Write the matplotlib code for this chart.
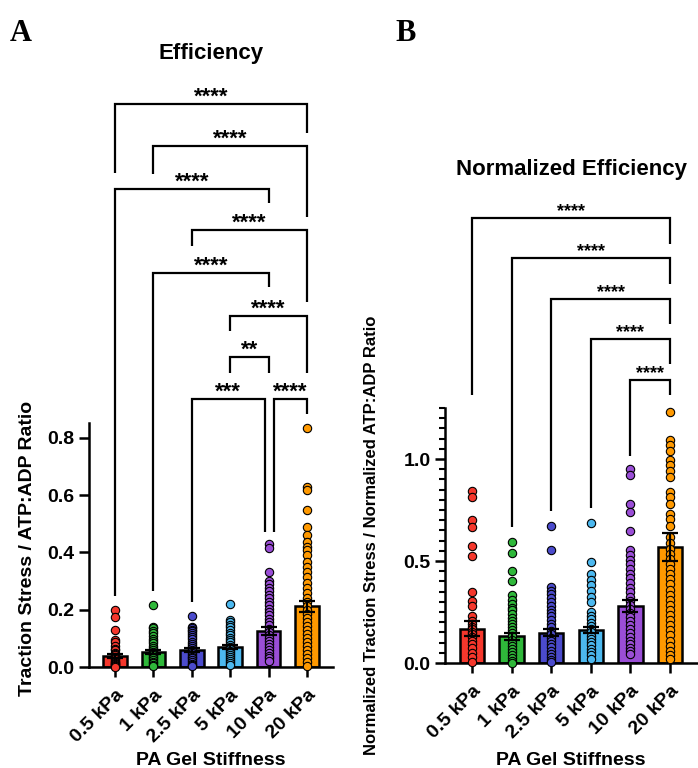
import matplotlib.pyplot as plt
from matplotlib.ticker import FormatStrFormatter

plt.rcParams['font.family'] = ['Liberation Sans', 'DejaVu Sans']
plt.rcParams['font.weight'] = 'bold'

labels = ['0.5 kPa', '1 kPa', '2.5 kPa', '5 kPa', '10 kPa', '20 kPa']
colors = ['#f5372c', '#2fb83a', '#4b4bcc', '#4cb8ef', '#9a4ed6', '#ff9900']

# panel A: traction stress / ATP:ADP ratio, single cells
red_a = [0.199, 0.174, 0.128, 0.095, 0.088, 0.072, 0.064, 0.058, 0.05, 0.046, 0.041, 0.036,
         0.031, 0.027, 0.022, 0.018, 0.015, 0.012, 0.009, 0.006, 0.004, 0.002, 0.001]
green_a = [0.218, 0.141, 0.136, 0.126, 0.118, 0.108, 0.099, 0.092, 0.083, 0.073, 0.066,
           0.058, 0.052, 0.047, 0.041, 0.036, 0.03, 0.025, 0.019, 0.013, 0.008, 0.003]
blue_a = [0.178, 0.141, 0.136, 0.13, 0.124, 0.117, 0.11, 0.103, 0.096, 0.089, 0.082, 0.075,
          0.068, 0.061, 0.055, 0.048, 0.042, 0.036, 0.03, 0.024, 0.018, 0.012, 0.007, 0.002]
lblue_a = [0.219, 0.165, 0.156, 0.147, 0.138, 0.129, 0.12, 0.111, 0.102, 0.094, 0.086,
           0.078, 0.07, 0.062, 0.055, 0.048, 0.041, 0.034, 0.027, 0.02, 0.013, 0.006]
purple_a = [0.429, 0.415, 0.333, 0.301, 0.288, 0.276, 0.264, 0.252, 0.24, 0.228, 0.216,
            0.204, 0.192, 0.18, 0.168, 0.156, 0.145, 0.134, 0.123, 0.112, 0.101, 0.09,
            0.08, 0.07, 0.06, 0.05, 0.04, 0.03, 0.022]
orange_a = [0.833, 0.627, 0.619, 0.548, 0.487, 0.46, 0.437, 0.42, 0.408, 0.391, 0.368, 0.35,
            0.333, 0.315, 0.293, 0.275, 0.257, 0.24, 0.228, 0.212, 0.198, 0.184, 0.17,
            0.156, 0.142, 0.128, 0.114, 0.1, 0.086, 0.072, 0.058, 0.044, 0.03, 0.016, 0.005]
mean_a = [0.038, 0.051, 0.060, 0.070, 0.124, 0.212]
sem_a = [0.006, 0.007, 0.006, 0.008, 0.014, 0.020]

# panel B: normalized values
red_b = [0.843, 0.812, 0.70, 0.665, 0.575, 0.526, 0.346, 0.305, 0.28, 0.228, 0.208, 0.19,
         0.178, 0.165, 0.154, 0.14, 0.129, 0.11, 0.095, 0.072, 0.05, 0.027, 0.003]
green_b = [0.592, 0.541, 0.452, 0.403, 0.333, 0.31, 0.29, 0.272, 0.258, 0.24, 0.222, 0.205,
           0.19, 0.175, 0.16, 0.145, 0.13, 0.115, 0.1, 0.085, 0.07, 0.055, 0.04, 0.025,
           0.01, 0.002]
blue_b = [0.673, 0.554, 0.371, 0.355, 0.34, 0.32, 0.3, 0.28, 0.262, 0.245, 0.228, 0.21,
          0.192, 0.175, 0.158, 0.14, 0.124, 0.108, 0.092, 0.076, 0.06, 0.045, 0.03, 0.015,
          0.004]
lblue_b = [0.685, 0.497, 0.435, 0.405, 0.38, 0.355, 0.325, 0.3, 0.25, 0.232, 0.215, 0.198,
           0.182, 0.166, 0.15, 0.134, 0.118, 0.102, 0.086, 0.07, 0.054, 0.038, 0.022]
purple_b = [0.949, 0.922, 0.779, 0.742, 0.649, 0.554, 0.528, 0.505, 0.483, 0.46, 0.438,
            0.415, 0.392, 0.37, 0.348, 0.326, 0.305, 0.285, 0.265, 0.245, 0.225, 0.205,
            0.185, 0.165, 0.146, 0.128, 0.11, 0.092, 0.075, 0.058, 0.042]
orange_b = [1.232, 1.093, 1.07, 1.04, 0.995, 0.97, 0.94, 0.913, 0.84, 0.815, 0.78, 0.73,
            0.705, 0.67, 0.62, 0.59, 0.56, 0.535, 0.51, 0.485, 0.46, 0.435, 0.41, 0.385,
            0.36, 0.335, 0.31, 0.285, 0.26, 0.235, 0.21, 0.185, 0.16, 0.135, 0.11, 0.085,
            0.06, 0.04, 0.02]
mean_b = [0.168, 0.132, 0.149, 0.160, 0.281, 0.569]
sem_b = [0.036, 0.017, 0.017, 0.015, 0.030, 0.070]

# significance brackets: group i, group j, bar height, left leg end, right leg end, stars
brackets_a = [(0, 5, 1.965, 1.724, 1.864, '****'),
              (1, 5, 1.818, 1.721, 1.571, '****'),
              (0, 4, 1.668, 0.248, 1.620, '****'),
              (2, 5, 1.525, 1.469, 1.274, '****'),
              (1, 4, 1.375, 0.265, 1.326, '****'),
              (3, 5, 1.225, 1.173, 1.026, '****'),
              (3, 4, 1.082, 1.026, 1.026, '**'),
              (2, 3.9, 0.935, 0.227, 0.471, '***'),
              (4.13, 5, 0.935, 0.471, 0.883, '****')]
brackets_b = [(0, 5, 2.181, 1.314, 2.054, '****'),
              (1, 5, 1.985, 0.667, 1.858, '****'),
              (2, 5, 1.784, 0.745, 1.662, '****'),
              (3, 5, 1.588, 0.760, 1.466, '****'),
              (4, 5, 1.387, 1.015, 1.314, '****')]


def draw_panel(ax, groups, means, sems, brackets, ytop, ymax, star_size):
    x = list(range(len(labels)))
    ax.bar(x, means, width=0.62, color=colors, edgecolor='black', linewidth=1.8, zorder=2)
    for i, vals in enumerate(groups):
        ax.plot([i] * len(vals), vals, 'o', ms=6, mfc=colors[i], mec='black', mew=0.8,
                zorder=3, clip_on=False)
    ax.errorbar(x, means, yerr=sems, fmt='none', ecolor='black', elinewidth=1.6,
                capsize=6, capthick=1.6, zorder=4)
    for i, j, y, yl, yr, txt in brackets:
        ax.plot([i, i, j, j], [yl, y, y, yr], color='black', lw=1.6, clip_on=False,
                solid_joinstyle='miter', solid_capstyle='butt')
        ax.annotate(txt, ((i + j) / 2, y), xytext=(0, 5), textcoords='offset points',
                    ha='center', va='center', fontsize=star_size, fontweight='bold')
    ax.set_xlim(-0.68, 5.68)
    ax.set_ylim(0, ymax)
    ax.spines['top'].set_visible(False)
    ax.spines['right'].set_visible(False)
    ax.spines['left'].set_bounds(0, ytop)
    ax.spines['left'].set_linewidth(1.8)
    ax.spines['bottom'].set_linewidth(1.8)
    ax.yaxis.set_major_formatter(FormatStrFormatter('%.1f'))
    ax.tick_params(width=1.8, length=7, labelsize=14)
    ax.tick_params(axis='x', labelsize=14, pad=7)
    ax.tick_params(which='minor', width=1.5, length=4)
    ax.set_xticks(x)
    ax.set_xticklabels(labels, rotation=45, ha='right', rotation_mode='anchor')


fig = plt.figure(figsize=(6.98, 7.68), dpi=100)

axA = fig.add_axes([89 / 698, 101 / 768, 244 / 698, 587 / 768])
draw_panel(axA, [red_a, green_a, blue_a, lblue_a, purple_a, orange_a], mean_a, sem_a,
           brackets_a, 0.85, 2.049, 16)
axA.set_yticks([0, 0.2, 0.4, 0.6, 0.8])

axB = fig.add_axes([445 / 698, 105 / 768, 252 / 698, 473 / 768])
draw_panel(axB, [red_b, green_b, blue_b, lblue_b, purple_b, orange_b], mean_b, sem_b,
           brackets_b, 1.25, 2.319, 13)
axB.set_yticks([0, 0.5, 1.0])
axB.set_yticks([t / 20 for t in range(1, 26) if t % 10], minor=True)

fig.text(211 / 698, 1 - 53 / 768, 'Efficiency', ha='center', va='center', fontsize=16)
fig.text(571 / 698, 1 - 170 / 768, 'Normalized Efficiency', ha='center', va='center', fontsize=16)
fig.text(28 / 698, 1 - 548 / 768, 'Traction Stress / ATP:ADP Ratio', rotation=90,
         ha='center', va='center', fontsize=14)
fig.text(371 / 698, 1 - 535 / 768, 'Normalized Traction Stress / Normalized ATP:ADP Ratio',
         rotation=90, ha='center', va='center', fontsize=12)
fig.text(211 / 698, 1 - 765 / 768, 'PA Gel Stiffness', ha='center', va='baseline', fontsize=14)
fig.text(571 / 698, 1 - 765 / 768, 'PA Gel Stiffness', ha='center', va='baseline', fontsize=14)
fig.text(10 / 698, 1 - 41 / 768, 'A', family='Liberation Serif', fontweight='bold', fontsize=22)
fig.text(395 / 698, 1 - 41 / 768, 'B', family='Liberation Serif', fontweight='bold', fontsize=22)

fig.savefig('out.png', dpi=100)
